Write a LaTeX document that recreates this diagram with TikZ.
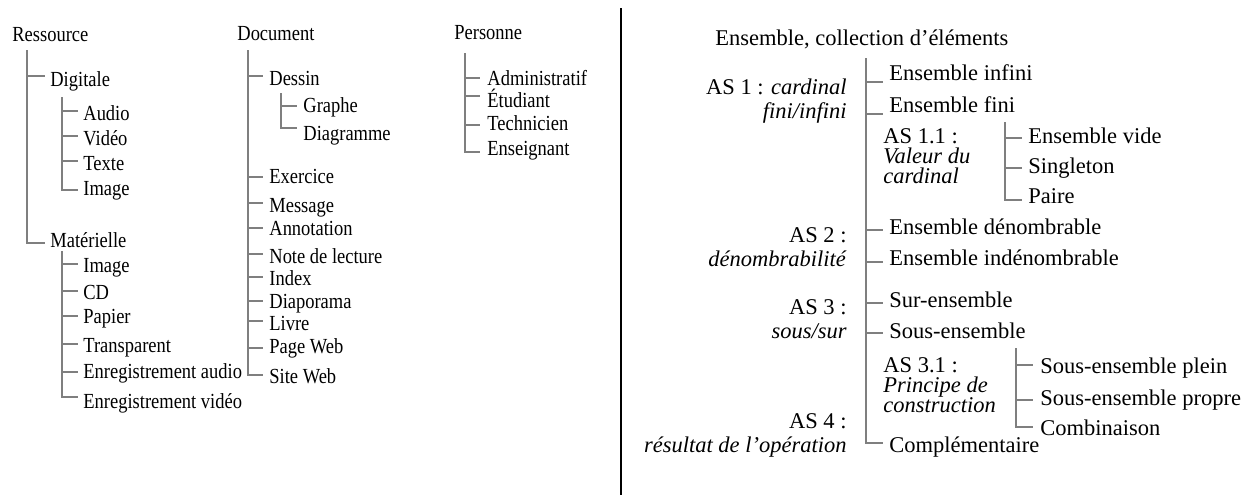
\documentclass[tikz,border=0pt]{standalone}
\usepackage{fontspec}
\setmainfont{Liberation Serif}
\newfontfamily\narrowserif[FakeStretch=0.86]{Liberation Serif}
\newdimen\px \px=0.5pt
\definecolor{treegray}{HTML}{7F7F7F}

\tikzset{
  tree/.style={draw=treegray, line width=0.75pt},
  sepline/.style={draw=black, line width=1.1pt},
  lft/.style={font=\narrowserif\fontsize{10.75}{12}\selectfont, inner sep=0pt, anchor=base west},
  rgt/.style={font=\fontsize{11.25}{12}\selectfont, inner sep=0pt, anchor=base west},
  lbl/.style={font=\fontsize{11.25}{12}\selectfont, inner sep=0pt, align=right, anchor=base east},
  sublbl/.style={font=\fontsize{11.25}{10}\selectfont, inner sep=0pt, align=left, anchor=base west},
}

% \twig[style]{name}{spine}{x}{baseline}{tick y}{gap}{text}
% places a child label and the short horizontal stroke from its spine
\newcommand\twig[8][lft]{%
  \node[#1] (#2) at (#4,#5) {#8};
  \pgfmathsetmacro\twigdy{#5-#6}%
  \coordinate (#2-t) at ([xshift=-#7\px, yshift=\twigdy\px]#2.base west);
  \draw[tree] (#3 |- #2-t) -- (#2-t);
}

\begin{document}
\begin{tikzpicture}[x=0.5pt, y=-0.5pt]
\useasboundingbox (0,0) rectangle (1253,495);

% ---------- Ressource ----------
\node[lft] (ress) at (12,41) {Ressource};
\coordinate (ress-s) at (27,50);
\twig{dig}{ress-s}{50}{86}{76}{5}{Digitale}
\coordinate (dig-s) at (62,97);
\twig{audio}{dig-s}{83}{120}{111}{5}{Audio}
\twig{video}{dig-s}{83}{145}{136}{5}{Vidéo}
\twig{texte}{dig-s}{83}{170}{161}{5}{Texte}
\twig{image}{dig-s}{83}{195}{190}{5}{Image}
\draw[tree] (dig-s) |- (image-t);
\twig{mat}{ress-s}{50}{247}{243}{5}{Matérielle}
\draw[tree] (ress-s) |- (mat-t);
\coordinate (mat-s) at (62,251);
\twig{mimage}{mat-s}{83}{272}{264}{5}{Image}
\twig{cd}{mat-s}{83}{299}{291}{5}{CD}
\twig{papier}{mat-s}{83}{323}{316}{5}{Papier}
\twig{transp}{mat-s}{83}{352}{344}{5}{Transparent}
\twig{enra}{mat-s}{83}{378}{372}{5}{Enregistrement audio}
\twig{enrv}{mat-s}{83}{408}{397}{5}{Enregistrement vidéo}
\draw[tree] (mat-s) |- (enrv-t);

% ---------- Document ----------
\node[lft] (doc) at (237,40) {Document};
\coordinate (doc-s) at (248,50);
\twig{dessin}{doc-s}{269}{85}{76}{6}{Dessin}
\coordinate (dessin-s) at (281,93);
\twig{graphe}{dessin-s}{303}{112}{106}{6}{Graphe}
\twig{diag}{dessin-s}{303}{140}{128}{6}{Diagramme}
\draw[tree] (dessin-s) |- (diag-t);
\twig{exo}{doc-s}{269}{183}{177}{6}{Exercice}
\twig{msg}{doc-s}{269}{212}{203}{6}{Message}
\twig{annot}{doc-s}{269}{235}{228}{6}{Annotation}
\twig{note}{doc-s}{269}{263}{254}{6}{Note de lecture}
\twig{index}{doc-s}{269}{285}{277}{6}{Index}
\twig{diapo}{doc-s}{269}{308}{301}{6}{Diaporama}
\twig{livre}{doc-s}{269}{330}{321}{6}{Livre}
\twig{page}{doc-s}{269}{353}{348}{6}{Page Web}
\twig{site}{doc-s}{269}{383}{375}{6}{Site Web}
\draw[tree] (doc-s) |- (site-t);

% ---------- Personne ----------
\node[lft] (pers) at (454,39) {Personne};
\coordinate (pers-s) at (465,53);
\twig{admin}{pers-s}{487}{85}{78}{7}{Administratif}
\twig{etud}{pers-s}{487}{107}{96}{7}{Étudiant}
\twig{tech}{pers-s}{487}{130}{125}{7}{Technicien}
\twig{ens}{pers-s}{487}{155}{152}{7}{Enseignant}
\draw[tree] (pers-s) |- (ens-t);

% ---------- separator ----------
\coordinate (sep-top) at (621,8);
\coordinate (sep-bot) at (621,495);
\draw[sepline] (sep-top) -- (sep-bot);

% ---------- Ensemble ----------
% multi-line labels are anchored on the baseline of their last line
\node[rgt] (set) at (715,45) {Ensemble, collection d’éléments};
\coordinate (set-s) at (866,58);
\twig[rgt]{infini}{set-s}{889}{80}{82}{6}{Ensemble infini}
\twig[rgt]{fini}{set-s}{889}{112}{114}{6}{Ensemble fini}
\node[lbl] (as1) at (847,118) {AS 1 : \textit{cardinal}\\\textit{fini/infini}};
\node[sublbl] (as11) at (883,183) {AS 1.1 :\\\textit{Valeur du}\\\textit{cardinal}};
\coordinate (as11-s) at (1005,122);
\twig[rgt]{vide}{as11-s}{1028}{143}{138}{6}{Ensemble vide}
\twig[rgt]{single}{as11-s}{1028}{173}{168}{6}{Singleton}
\twig[rgt]{paire}{as11-s}{1028}{203}{200}{6}{Paire}
\draw[tree] (as11-s) |- (paire-t);
\twig[rgt]{denom}{set-s}{889}{234}{230}{6}{Ensemble dénombrable}
\twig[rgt]{indenom}{set-s}{889}{265}{262}{6}{Ensemble indénombrable}
\node[lbl] (as2) at (847,266) {AS 2 :\\\textit{dénombrabilité}};
\twig[rgt]{sur}{set-s}{889}{307}{303}{6}{Sur-ensemble}
\twig[rgt]{sous}{set-s}{889}{338}{333}{6}{Sous-ensemble}
\node[lbl] (as3) at (847,338) {AS 3 :\\\textit{sous/sur}};
\node[sublbl] (as31) at (883,412) {AS 3.1 :\\\textit{Principe de}\\\textit{construction}};
\coordinate (as31-s) at (1016,348);
\twig[rgt]{plein}{as31-s}{1040}{373}{365}{7}{Sous-ensemble plein}
\twig[rgt]{propre}{as31-s}{1040}{405}{400}{7}{Sous-ensemble propre}
\twig[rgt]{comb}{as31-s}{1040}{435}{427}{7}{Combinaison}
\draw[tree] (as31-s) |- (comb-t);
\node[lbl] (as4) at (847,452) {AS 4 :\\\textit{résultat de l’opération}};
\twig[rgt]{compl}{set-s}{889}{452}{443}{6}{Complémentaire}
\draw[tree] (set-s) |- (compl-t);
\end{tikzpicture}
\end{document}
